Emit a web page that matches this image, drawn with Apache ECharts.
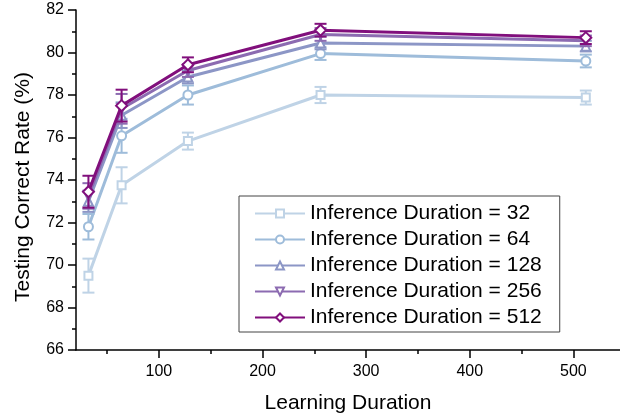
<!DOCTYPE html>
<html>
<head>
<meta charset="utf-8">
<script src="https://cdn.jsdelivr.net/npm/echarts@6/dist/echarts.min.js"></script>
<style>
  html, body { margin: 0; padding: 0; background: #fff; }
  #chart { width: 620px; height: 419px; }
</style>
</head>
<body>
<div id="chart"></div>
<script>
// learning durations (x)
const learning = [32, 64, 128, 256, 512];
const names = ['Inference Duration = 32', 'Inference Duration = 64', 'Inference Duration = 128',
  'Inference Duration = 256', 'Inference Duration = 512'];

// testing correct rate (%) per inference duration
const rate32 = [69.5, 73.75, 75.83, 78.0, 77.88];
const rate64 = [71.8, 76.08, 78.0, 79.95, 79.6];
const rate128 = [73.0, 77.05, 78.85, 80.45, 80.3];
const rate256 = [73.25, 77.35, 79.15, 80.85, 80.55];
const rate512 = [73.45, 77.5, 79.42, 81.05, 80.7];

// error bar half widths
const err32 = [0.8, 0.85, 0.4, 0.38, 0.33];
const err64 = [0.6, 0.8, 0.45, 0.3, 0.3];
const err128 = [0.5, 0.6, 0.3, 0.3, 0.25];
const err256 = [0.6, 0.7, 0.3, 0.3, 0.25];
const err512 = [0.75, 0.75, 0.35, 0.3, 0.3];

const xTicks = [100, 200, 300, 400, 500];
const xMinorTicks = [50, 150, 250, 350, 450];

const rates = [rate32, rate64, rate128, rate256, rate512];
const errs = [err32, err64, err128, err256, err512];
const colors = ['#bfd3e6', '#9ebcda', '#8c96c6', '#8c6bb1', '#810f7c'];
const symbols = ['emptyRect', 'emptyCircle', 'emptyTriangle', 'emptyTriangle', 'emptyDiamond'];
const symbolRot = [0, 0, 0, 180, 0];
const symbolSizes = [8, 9, 9, 9, 11];

const font = 'Liberation Sans, Arial, sans-serif';

const series = [];
rates.forEach(function (r, i) {
  // error bars
  series.push({
    type: 'custom',
    name: 'err ' + names[i],
    z: 2 + i * 2,
    renderItem: function (params, api) {
      const x = api.value(0);
      const lo = api.coord([x, api.value(1)]);
      const hi = api.coord([x, api.value(2)]);
      const half = 6;
      const style = { stroke: colors[i], lineWidth: 2, fill: null };
      return {
        type: 'group',
        children: [
          { type: 'line', shape: { x1: lo[0], y1: lo[1], x2: hi[0], y2: hi[1] }, style: style },
          { type: 'line', shape: { x1: lo[0] - half, y1: lo[1], x2: lo[0] + half, y2: lo[1] }, style: style },
          { type: 'line', shape: { x1: hi[0] - half, y1: hi[1], x2: hi[0] + half, y2: hi[1] }, style: style }
        ]
      };
    },
    data: learning.map(function (x, k) { return [x, r[k] - errs[i][k], r[k] + errs[i][k]]; }),
    silent: true
  });
  series.push({
    type: 'line',
    name: names[i],
    z: 3 + i * 2,
    data: learning.map(function (x, k) { return [x, r[k]]; }),
    symbol: symbols[i],
    symbolRotate: symbolRot[i],
    symbolSize: symbolSizes[i],
    showAllSymbol: true,
    lineStyle: { color: colors[i], width: 3 },
    itemStyle: { color: colors[i], borderWidth: 2 }
  });
});

const option = {
  backgroundColor: '#fff',
  animation: false,
  color: colors,
  grid: { left: 76, right: 0, top: 10, bottom: 69 },
  legend: {
    data: names,
    orient: 'vertical',
    left: 239,
    top: 196,
    itemWidth: 50,
    itemHeight: 10,
    itemGap: 5,
    padding: [7, 18, 4, 15],
    borderColor: '#444',
    borderWidth: 1,
    backgroundColor: '#fff',
    textStyle: { fontFamily: font, fontSize: 21, lineHeight: 21, color: '#000' }
  },
  xAxis: [{
    type: 'value',
    min: 20,
    max: 545,
    name: 'Learning Duration',
    nameLocation: 'middle',
    nameGap: 43,
    nameTextStyle: { fontFamily: font, fontSize: 21, color: '#000' },
    axisLine: { show: true, lineStyle: { color: '#000', width: 1.5 } },
    axisTick: { show: true, inside: false, length: 8, customValues: xTicks, lineStyle: { color: '#000', width: 1.5 } },
    axisLabel: { customValues: xTicks, margin: 14, fontFamily: font, fontSize: 16, color: '#000' },
    splitLine: { show: false }
  }, {
    type: 'value',
    min: 20,
    max: 545,
    position: 'bottom',
    axisLine: { show: false },
    axisTick: { show: true, inside: false, length: 4, customValues: xMinorTicks, lineStyle: { color: '#000', width: 1.5 } },
    axisLabel: { show: false },
    splitLine: { show: false }
  }],
  yAxis: {
    type: 'value',
    min: 66,
    max: 82,
    interval: 2,
    name: 'Testing Correct Rate (%)',
    nameLocation: 'middle',
    nameGap: 42,
    nameTextStyle: { fontFamily: font, fontSize: 21, color: '#000', padding: [0, 14, 0, 0] },
    axisLine: { show: true, lineStyle: { color: '#000', width: 1.5 } },
    axisTick: { show: true, inside: false, length: 8, lineStyle: { color: '#000', width: 1.5 } },
    minorTick: { show: true, splitNumber: 2, length: 4, lineStyle: { color: '#000', width: 1.5 } },
    axisLabel: { margin: 12, fontFamily: font, fontSize: 16, color: '#000' },
    splitLine: { show: false }
  },
  series: series
};

echarts.init(document.getElementById('chart')).setOption(option);
</script>
</body>
</html>
